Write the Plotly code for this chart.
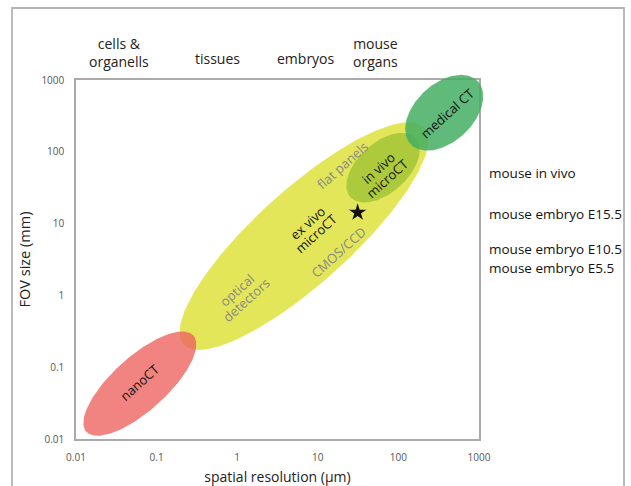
import numpy as np
import plotly.graph_objects as go

# ---- data ----
x_ticks = [0.01, 0.1, 1, 10, 100, 1000]
y_ticks = [0.01, 0.1, 1, 10, 100, 1000]
x_ticklabels = ["0.01", "0.1", "1", "10", "100", "1000"]
y_ticklabels = ["0.01", "0.1", "1", "10", "100", "1000"]

# ellipse regions: name, centre resolution (um), centre FOV (mm)
region_names = ["optical", "nanoCT", "in vivo", "medical CT"]
region_res = [6.74, 0.062, 64.5, 370]
region_fov = [6.72, 0.059, 60, 350]

# region labels (one entry per text line)
label_text = ["nanoCT", "optical", "detectors", "ex vivo", "microCT", "CMOS/CCD",
              "flat panels", "in vivo", "microCT", "medical CT"]
label_res = [0.062, 1.14, 1.14, 8.5, 8.5, 18.2, 20.4, 64.5, 64.5, 407]
label_fov = [0.0625, 1.0, 1.0, 8.6, 8.6, 3.96, 65, 50.5, 50.5, 346]
label_line = [0, -1, 1, -1, 1, 0, 0, -1, 1, 0]

# sample scale labels along the top
scale_text = ["cells &<br>organells", "tissues", "embryos", "mouse<br>organs"]
scale_res = [0.034, 0.575, 7.1, 52]

# specimen labels on the right
specimen_text = ["mouse in vivo", "mouse embryo E15.5", "mouse embryo E10.5", "mouse embryo E5.5"]
specimen_fov = [50, 13.8, 4.5, 2.37]

# star marker
star_res = [31.2]
star_fov = [14.3]

# ---- styles ----
W, H = 631, 486
PL, PR, PT, PB = 76, 479, 80, 439   # plot box in px
PAD = 14
region_semi = [(162, 47), (72, 27), (44, 25), (46, 29)]  # px semi axes
region_angle = [42, 42, 42, 43]
region_color = ["rgba(222,226,60,0.85)", "rgba(237,100,96,0.8)",
                "rgba(150,190,50,0.7)", "rgba(68,174,99,0.85)"]
label_color = ["#111", "#888", "#888", "#111", "#111", "#888", "#888", "#111", "#111", "#111"]
TEXT_ANGLE = 42
LINE_GAP = 6.8

pw, ph = PR - PL, PB - PT
pxx = pw / 5.0
pxy = ph / 5.0

fig = go.Figure()
t = np.linspace(0, 2 * np.pi, 240)
for name, cx, cy, (a, b), ang, col in zip(region_names, region_res, region_fov,
                                          region_semi, region_angle, region_color):
    th = np.deg2rad(ang)
    u = a * np.cos(t)
    v = b * np.sin(t)
    dx = u * np.cos(th) - v * np.sin(th)
    dy = u * np.sin(th) + v * np.cos(th)
    xs = 10 ** (np.log10(cx) + dx / pxx)
    ys = 10 ** (np.log10(cy) + dy / pxy)
    fig.add_trace(go.Scatter(x=xs, y=ys, mode="lines", fill="toself",
                             fillcolor=col, line=dict(width=0), hoverinfo="skip",
                             showlegend=False, name=name, xaxis="x2", yaxis="y2"))

fig.add_trace(go.Scatter(x=star_res, y=star_fov, mode="markers",
                         marker=dict(symbol="star", size=13, color="#111"),
                         showlegend=False, xaxis="x2", yaxis="y2", hoverinfo="skip"))

# outer frame drawn on a full-figure pixel axis
fig.add_trace(go.Scatter(x=[12, 12, 624, 624], y=[H + 10, 8, 8, H + 10], mode="lines",
                         line=dict(color="#b3b3b3", width=1.8), hoverinfo="skip",
                         showlegend=False, xaxis="x3", yaxis="y3"))

font = "Open Sans, DejaVu Sans, sans-serif"
thr = np.deg2rad(TEXT_ANGLE)
for txt, xr, yf, c, ln in zip(label_text, label_res, label_fov, label_color, label_line):
    fig.add_annotation(x=np.log10(xr), y=np.log10(yf), xref="x", yref="y", text=txt,
                       showarrow=False, textangle=-TEXT_ANGLE,
                       xshift=ln * LINE_GAP * np.sin(thr),
                       yshift=-ln * LINE_GAP * np.cos(thr),
                       font=dict(size=13, color=c, family=font))

for txt, xr in zip(scale_text, scale_res):
    off = 27.5 if "<br>" in txt else 21.5
    fig.add_annotation(x=np.log10(xr), y=1 + off / ph, xref="x", yref="y domain",
                       yanchor="middle", text=txt, showarrow=False,
                       font=dict(size=14, color="#222", family=font))

for txt, yf in zip(specimen_text, specimen_fov):
    fig.add_annotation(x=1 + 8 / pw, xref="x domain", xanchor="left", y=np.log10(yf),
                       yref="y", yanchor="middle", text=txt, showarrow=False,
                       font=dict(size=13.5, color="#111", family=font))

axis_common = dict(type="log", showgrid=False, zeroline=False, showline=True,
                   linecolor="#aaa", linewidth=1.5, mirror=True, ticks="",
                   automargin=False,
                   tickfont=dict(size=10, color="#555", family=font))
fig.update_layout(
    width=W, height=H, margin=dict(l=0, r=0, t=0, b=0),
    paper_bgcolor="white", plot_bgcolor="rgba(0,0,0,0)",
    xaxis=dict(range=[-2, 3], domain=[PL / W, PR / W], anchor="y",
               tickvals=x_ticks, ticktext=x_ticklabels, ticklabelstandoff=8,
               title=dict(text="spatial resolution (µm)", standoff=11,
                          font=dict(size=14, color="#222", family=font)),
               **axis_common),
    yaxis=dict(range=[-2, 3], domain=[1 - PB / H, 1 - PT / H], anchor="x",
               tickvals=y_ticks, ticktext=y_ticklabels, ticklabelstandoff=8,
               title=dict(text="FOV size (mm)", standoff=7,
                          font=dict(size=14.5, color="#222", family=font)),
               **axis_common),
    xaxis2=dict(type="log", visible=False, anchor="y2",
                domain=[(PL - PAD) / W, (PR + PAD) / W],
                range=[-2 - PAD / pxx, 3 + PAD / pxx]),
    yaxis2=dict(type="log", visible=False, anchor="x2",
                domain=[1 - (PB + PAD) / H, 1 - (PT - PAD) / H],
                range=[-2 - PAD / pxy, 3 + PAD / pxy]),
    xaxis3=dict(visible=False, anchor="y3", domain=[0, 1], range=[0, W]),
    yaxis3=dict(visible=False, anchor="x3", domain=[0, 1], range=[H, 0]),
)
fig.write_html("out.html", config={"displayModeBar": False},
               post_script="document.body.style.margin='0';document.body.style.overflow='hidden';")
